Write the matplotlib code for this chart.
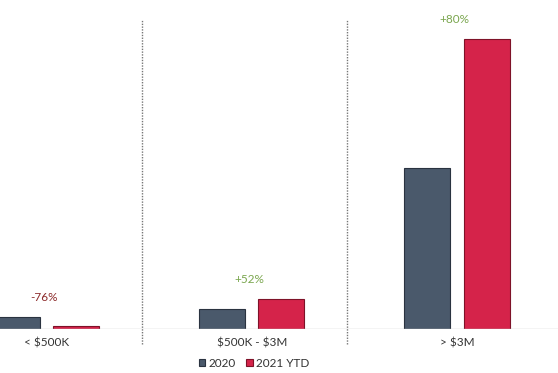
import numpy as np
import matplotlib.pyplot as plt

plt.rcParams['font.family'] = ['Lato', 'DejaVu Sans']
plt.rcParams['text.parse_math'] = False

# data
categories = ['< $500K', '$500K - $3M', '> $3M']
sales_2020 = [125, 205, 1650]
sales_2021 = [30, 312, 2970]
changes = ['-76%', '+52%', '+80%']

x = np.arange(len(categories))
fig = plt.figure(figsize=(5.58, 3.73), dpi=100)
ax = fig.add_axes([0, 0.118, 1, 0.882])

bar_width = 0.224
off = 0.144
ax.bar(x - off, sales_2020, bar_width, color='#4a596b', edgecolor='#2a3340', linewidth=0.8, label='2020')
ax.bar(x + off, sales_2021, bar_width, color='#d5234a', edgecolor='#7e1228', linewidth=0.8, label='2021 YTD')

# change labels above each group
for i, txt in enumerate(changes):
    col = '#8c2a2a' if txt.startswith('-') else '#7aa64e'
    top = max(sales_2020[i], sales_2021[i])
    ax.annotate(txt, (x[i], top), xytext=(-2, 10), textcoords='offset points',
                ha='center', va='bottom', fontsize=8.5, color=col)

# dotted separators between groups
for xs in x[:-1] + 0.465:
    ax.axvline(xs, ymin=-0.045, ymax=0.94, color='#777777', linestyle=(0, (1.0, 1.0)),
               linewidth=1.0, clip_on=False)

ax.axhline(0, color='#c8c8c8', linewidth=1.0)
ax.set_xlim(-0.227, 2.492)
ax.set_ylim(0, 3369)
ax.set_xticks(x)
ax.set_xticklabels(categories, fontsize=8.5, color='#333333')
ax.tick_params(axis='x', length=0, pad=6)
ax.set_yticks([])
for s in ax.spines.values():
    s.set_visible(False)

ax.legend(loc='upper center', bbox_to_anchor=(0.455, -0.055), ncol=2, frameon=False,
          fontsize=8.5, handlelength=0.55, handleheight=0.55, handletextpad=0.25,
          columnspacing=0.9, labelcolor='#333333')

fig.savefig('out.png', dpi=100)
